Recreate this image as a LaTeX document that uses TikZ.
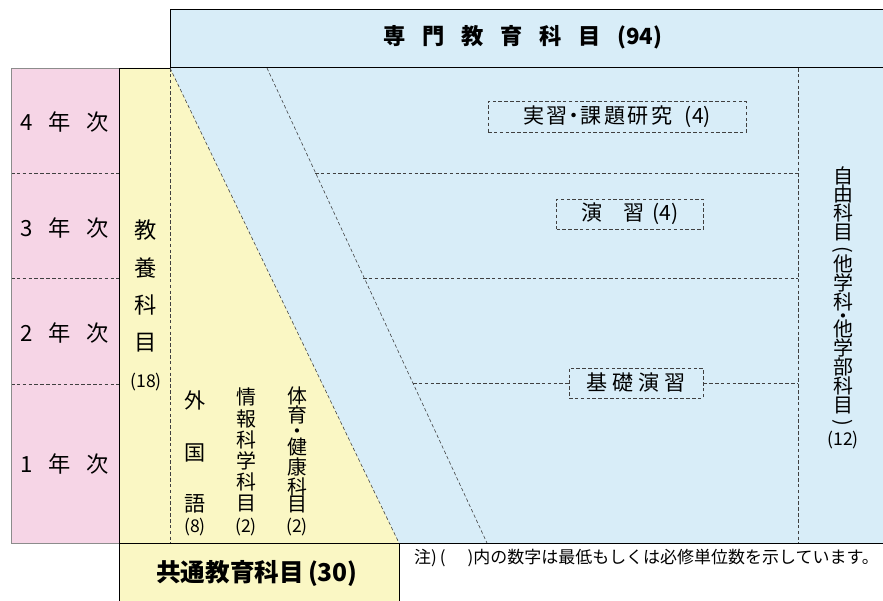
\documentclass[tikz,border=0pt]{standalone}
\usepackage{fontspec}
\setmainfont{Noto Sans CJK JP}
\usetikzlibrary{positioning}
\definecolor{senmonblue}{RGB}{216,237,248}
\definecolor{nenjipink}{RGB}{246,213,230}
\definecolor{kyoutsuyellow}{RGB}{250,247,196}

\begin{document}
\begin{tikzpicture}[
x=0.3mm, y=-0.3mm,
every node/.style = {inner sep=0pt},
waku/.style = {draw=black, line width=0.8pt},
usuwaku/.style = {draw=black!45, line width=0.5pt},
tensen/.style = {draw=black!75, line width=0.5pt, dash pattern=on 3pt off 2pt},
nenji/.style = {font=\fontsize{19}{19}\selectfont},
tate/.style = {align=center, font=\fontsize{17}{18}\selectfont},
tani/.style = {font=\fontsize{15}{15}\selectfont},
kamoku/.style = {tensen, fill=senmonblue, minimum height=9mm, font=\fontsize{18}{18}\selectfont}
]
\useasboundingbox (0,0) rectangle (883,601);
% areas
\fill[senmonblue] (170,9) rectangle (883,543);
\fill[nenjipink] (11,68) rectangle (119,543);
\fill[kyoutsuyellow] (119,68) -- (170,68) -- (399,543) -- (399,601) -- (119,601) -- cycle;

% dashed guides
\coordinate (d1top) at (170,68);
\coordinate (d1bot) at (399,543);
\coordinate (d2top) at (267,68);
\coordinate (d2bot) at (487,543);
\coordinate (ktop) at (170,68);
\coordinate (kbot) at (170,543);
\coordinate (jtop) at (798,68);
\coordinate (jbot) at (798,543);
\coordinate (h1L) at (315,173);
\coordinate (h1R) at (798,173);
\coordinate (h2L) at (363,278);
\coordinate (h2R) at (798,278);
\coordinate (h3L) at (413,383);
\coordinate (h3R) at (798,383);
\draw[tensen] (d1top) -- (d1bot);
\draw[tensen] (d2top) -- (d2bot);
\draw[tensen] (ktop) -- (kbot);
\draw[tensen] (jtop) -- (jbot);
\draw[tensen] (h1L) -- (h1R);
\draw[tensen] (h2L) -- (h2R);
\foreach \y in {173,278,384}
	\draw[tensen] (11,\y) -- (119,\y);

% years
\node[nenji] (nen4) at (65,122) {4\hspace{.7em}年\hspace{.7em}次};
\node[nenji] (nen3) at (65,228) {3\hspace{.7em}年\hspace{.7em}次};
\node[nenji] (nen2) at (65,333) {2\hspace{.7em}年\hspace{.7em}次};
\node[nenji] (nen1) at (65,464) {1\hspace{.7em}年\hspace{.7em}次};

% kyoutsu
\node[tate, font=\fontsize{19}{31.6}\selectfont] (kyouyou) at (146,286) {教\\養\\科\\目};
\node[tani] (kyouyouTani) at (146,382) {(18)};
\node[tate, font=\fontsize{18}{44}\selectfont] (gaikokugo) at (195,452) {外\\国\\語};
\node[tani] (gaikokugoTani) at (195,527) {(8)};
\node[tate] (jouhou) at (246,450) {情\\報\\科\\学\\科\\目};
\node[tani] (jouhouTani) at (246,527) {(2)};
\node[tate, font=\fontsize{17}{15.2}\selectfont] (taiiku) at (297,450) {体\\育\\[-1.5pt]・\\[-1.5pt]健\\康\\科\\目};
\node[tani] (taiikuTani) at (297,527) {(2)};
\node[font=\fontsize{21}{21}\selectfont\bfseries] (kyoutsu) at (257,573) {共通教育科目\,(30)};

% senmon
\node[font=\fontsize{19}{19}\selectfont\bfseries] (senmon) at (523,37)
	{専\hspace{.75em}門\hspace{.75em}教\hspace{.75em}育\hspace{.75em}科\hspace{.75em}目\hspace{.75em}(94)};
\node[kamoku, minimum width=77.4mm, minimum height=9.3mm] (jisshu) at (617,117)
	{実\hspace{.12em}習\hspace{-.2em}・\hspace{-.2em}課\hspace{.12em}題\hspace{.12em}研\hspace{.12em}究\hspace{.6em}(4)};
\node[kamoku, minimum width=44.1mm] (enshu) at (630,214) {演\hspace{1em}習\hspace{.4em}(4)};
\node[kamoku, minimum width=40.2mm] (kiso) at (636,383) {基\hspace{.22em}礎\hspace{.22em}演\hspace{.22em}習};
\draw[tensen] (h3L) -- (kiso.west);
\draw[tensen] (kiso.east) -- (h3R);
\node[tate, font=\fontsize{17}{16.2}\selectfont, anchor=north] (jiyuu) at (843,166)
	{自\\由\\科\\目\\[-2.6pt]\rotatebox[origin=c]{-90}{(}\\[-2.6pt]他\\学\\科\\[-4.6pt]・\\[-4.6pt]他\\学\\部\\科\\目\\[-2.6pt]\rotatebox[origin=c]{-90}{)}};
\node[tani] (jiyuuTani) at (843,440) {(12)};

% note
\node[anchor=west, font=\fontsize{14.5}{14.5}\selectfont] (chuu) at (414,558)
	{注)\,(\hspace{1.3em})内の数字は最低もしくは必修単位数を示しています。};

% borders
\draw[waku] (883,9) -- (170,9) -- (170,67) -- (883,67);
\draw[waku] (170,68) -- (119,68) -- (119,601);
\draw[waku] (119,543) -- (399,543) -- (399,601);
\draw[waku] (399,543) -- (883,543);
\draw[usuwaku] (119,68) -- (11,68) -- (11,543) -- (119,543);
\end{tikzpicture}
\end{document}
